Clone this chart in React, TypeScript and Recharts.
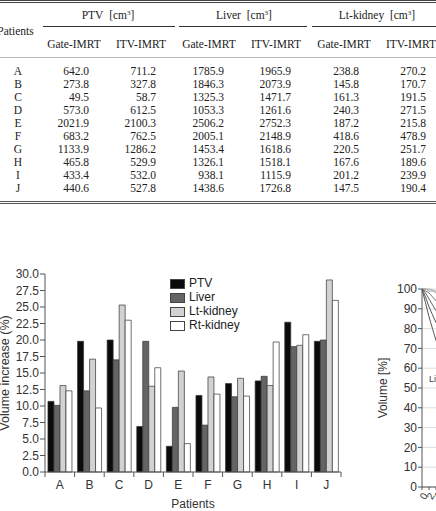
import React from 'react';
import { BarChart, Bar, XAxis, YAxis, Legend, LineChart, Line, CartesianGrid } from 'recharts';

// ---------- Table data ----------
const patients = ['A', 'B', 'C', 'D', 'E', 'F', 'G', 'H', 'I', 'J'];
const ptvGate = [642.0, 273.8, 49.5, 573.0, 2021.9, 683.2, 1133.9, 465.8, 433.4, 440.6];
const ptvItv = [711.2, 327.8, 58.7, 612.5, 2100.3, 762.5, 1286.2, 529.9, 532.0, 527.8];
const liverGate = [1785.9, 1846.3, 1325.3, 1053.3, 2506.2, 2005.1, 1453.4, 1326.1, 938.1, 1438.6];
const liverItv = [1965.9, 2073.9, 1471.7, 1261.6, 2752.3, 2148.9, 1618.6, 1518.1, 1115.9, 1726.8];
const ltGate = [238.8, 145.8, 161.3, 240.3, 187.2, 418.6, 220.5, 167.6, 201.2, 147.5];
const ltItv = [270.2, 170.7, 191.5, 271.5, 215.8, 478.9, 251.7, 189.6, 239.9, 190.4];
const organGroups = ['PTV', 'Liver', 'Lt-kidney'];
const subHeaders = ['Gate-IMRT', 'ITV-IMRT'];

// ---------- Bar chart data (volume increase %) ----------
const ptvIncrease = [10.7, 19.8, 20.0, 6.9, 3.9, 11.6, 13.4, 13.8, 22.7, 19.8];
const liverIncrease = [10.1, 12.3, 17.0, 19.8, 9.8, 7.1, 11.4, 14.5, 19.0, 20.0];
const ltIncrease = [13.1, 17.1, 25.3, 13.0, 15.3, 14.4, 14.2, 13.1, 19.2, 29.1];
const rtIncrease = [12.3, 9.7, 23.0, 15.8, 4.3, 11.8, 11.5, 19.7, 20.8, 26.0];
const seriesNames = ['PTV', 'Liver', 'Lt-kidney', 'Rt-kidney'];
const seriesColors = ['#0b0b0b', '#646464', '#d2d2d2', '#ffffff'];
const increaseTicks = [0, 2.5, 5, 7.5, 10, 12.5, 15, 17.5, 20, 22.5, 25, 27.5, 30];

// ---------- DVH (partial, right chart) ----------
const doses = [0, 1, 2, 3, 4, 5, 6, 8];
const dvhA = [100, 93, 86, 80, 74, 69, 65, 58];
const dvhB = [100, 96, 91, 87, 83, 80, 77, 72];
const dvhC = [100, 98, 95, 92, 89, 86, 84, 80];
const dvhD = [100, 99, 98, 96, 94, 92, 90, 86];
const dvhE = [100, 100, 99, 99, 98, 97, 96, 94];
const dvhF = [100, 100, 100, 99.5, 99, 99, 98, 97];
const volumeTicks = [0, 10, 20, 30, 40, 50, 60, 70, 80, 90, 100];
const doseTicks = [0, 2, 4, 6, 8, 10, 12, 14, 16, 18, 20];

const SANS = '"Liberation Sans", Arial, sans-serif';
const SERIF = '"Liberation Serif", "Times New Roman", serif';

const barData = patients.map((p, i) => ({
  patient: p,
  PTV: ptvIncrease[i],
  Liver: liverIncrease[i],
  'Lt-kidney': ltIncrease[i],
  'Rt-kidney': rtIncrease[i],
}));

const dvhData = doses.map((d, i) => ({
  dose: d, a: dvhA[i], b: dvhB[i], c: dvhC[i], d: dvhD[i], e: dvhE[i], f: dvhF[i],
}));

// ---------- Table ----------
const colCenters = [74, 141, 209, 276, 344, 411];
const groupCenters = [108, 244, 377];
const groupRules = [[43, 175], [179, 307], [312, 440]];
const ROW0 = 71;
const ROWSTEP = 13;

function Table() {
  const cols = [ptvGate, ptvItv, liverGate, liverItv, ltGate, ltItv];
  const txt: React.CSSProperties = { position: 'absolute', fontFamily: SERIF, fontSize: 11.5, lineHeight: '13px', color: '#222', whiteSpace: 'nowrap' };
  const centered = (cx: number, cy: number): React.CSSProperties => ({ ...txt, left: cx - 60, width: 120, top: cy - 6.5, textAlign: 'center' });
  return (
    <div style={{ position: 'absolute', left: 0, top: 0, width: 436, height: 210 }}>
      <div style={{ position: 'absolute', left: 0, top: 0, width: 436, borderTop: '3px double #444' }} />
      {organGroups.map((g, i) => (
        <div key={g} style={centered(groupCenters[i], 15)}>
          {g}&nbsp;&nbsp;[cm<sup style={{ fontSize: 7, verticalAlign: 'top', position: 'relative', top: -2 }}>3</sup>]
        </div>
      ))}
      {groupRules.map((r, i) => (
        <div key={i} style={{ position: 'absolute', left: r[0], top: 26, width: r[1] - r[0], borderTop: '1px solid #333' }} />
      ))}
      <div style={centered(15.5, 31)}>Patients</div>
      {colCenters.map((c, i) => (
        <div key={i} style={centered(c, 44)}>{subHeaders[i % 2]}</div>
      ))}
      <div style={{ position: 'absolute', left: 0, top: 57, width: 436, borderTop: '1px solid #bbb' }} />
      {patients.map((p, r) => (
        <React.Fragment key={p}>
          <div style={centered(18, ROW0 + r * ROWSTEP)}>{p}</div>
          {cols.map((col, c) => (
            <div key={c} style={{ ...txt, left: colCenters[c] + 15 - 60, width: 60, top: ROW0 + r * ROWSTEP - 6.5, textAlign: 'right' }}>
              {col[r].toFixed(1)}
            </div>
          ))}
        </React.Fragment>
      ))}
      <div style={{ position: 'absolute', left: 0, top: 201, width: 436, borderTop: '3px double #555' }} />
    </div>
  );
}

// ---------- Bar chart ----------
const BAR_W = 350;
const BAR_H = 261;
const BAR_M = { top: 24, right: 9, bottom: 0, left: 0 };
const Y_W = 45;
const X_H = 39;
const BAND = (BAR_W - BAR_M.left - BAR_M.right - Y_W) / patients.length;

function CategoryTick(props: any) {
  const { x, y, payload, index } = props;
  const last = index === patients.length - 1;
  return (
    <g>
      <line x1={x - BAND / 2} x2={x - BAND / 2} y1={y} y2={y + 5} stroke="#555" />
      {last && <line x1={x + BAND / 2} x2={x + BAND / 2} y1={y} y2={y + 5} stroke="#555" />}
      <text x={x} y={y + 17} textAnchor="middle" fontSize={12} fill="#333" fontFamily={SANS}>{payload.value}</text>
    </g>
  );
}

function BarLegend() {
  return (
    <div style={{ fontFamily: SANS, fontSize: 12, color: '#222' }}>
      {seriesNames.map((n, i) => (
        <div key={n} style={{ display: 'flex', alignItems: 'center', height: 13.9 }}>
          <div style={{ width: 13, height: 8, background: seriesColors[i], border: '1px solid #444', marginRight: 4 }} />
          <span style={{ lineHeight: '13px' }}>{n}</span>
        </div>
      ))}
    </div>
  );
}

function IncreaseChart() {
  return (
    <BarChart width={BAR_W} height={BAR_H} data={barData} margin={BAR_M} barCategoryGap="10%" barGap={0}>
      <XAxis
        dataKey="patient"
        interval={0}
        tickLine={false}
        tickSize={0}
        tickMargin={0}
        height={X_H}
        axisLine={{ stroke: '#555' }}
        tick={<CategoryTick />}
        label={{ value: 'Patients', position: 'insideBottom', offset: 3, fontSize: 12, fill: '#333', fontFamily: SANS }}
      />
      <YAxis
        domain={[0, 30]}
        ticks={increaseTicks}
        interval={0}
        width={Y_W}
        tickSize={5}
        tickMargin={1}
        axisLine={{ stroke: '#555' }}
        tickLine={{ stroke: '#555' }}
        tick={{ fontSize: 12, fill: '#333', fontFamily: SANS }}
        tickFormatter={(v: number) => v.toFixed(1)}
        label={{
          content: (p: any) => {
            const vb = p.viewBox || {};
            const cy = (vb.y || 0) + (vb.height || 0) / 2;
            return (
              <text x={9} y={cy} transform={`rotate(-90, 9, ${cy})`} textAnchor="middle" fontSize={12.5} fill="#333" fontFamily={SANS}>
                Volume increase (%)
              </text>
            );
          },
        }}
      />
      <Legend
        content={<BarLegend />}
        layout="horizontal"
        align="center"
        verticalAlign="middle"
        wrapperStyle={{ position: 'absolute', left: 170, top: 27, width: 100 }}
      />
      {seriesNames.map((n, i) => (
        <Bar key={n} dataKey={n} fill={seriesColors[i]} stroke="#333" strokeWidth={0.7} isAnimationActive={false} />
      ))}
    </BarChart>
  );
}

// ---------- Partial DVH chart ----------
function DvhChart() {
  const lines = [
    { k: 'f', c: '#aaa' },
    { k: 'e', c: '#999' },
    { k: 'd', c: '#777' },
    { k: 'c', c: '#666' },
    { k: 'b', c: '#555' },
    { k: 'a', c: '#555' },
  ];
  return (
    <LineChart width={300} height={241} data={dvhData} margin={{ top: 19, right: 8, bottom: 0, left: 0 }}>
      <CartesianGrid vertical={false} stroke="#dedede" />
      <XAxis
        type="number"
        dataKey="dose"
        domain={[0, 60]}
        ticks={doseTicks}
        interval={0}
        height={24}
        tickSize={3}
        axisLine={{ stroke: '#555' }}
        tickLine={{ stroke: '#555' }}
        angle={-60}
        textAnchor="end"
        tick={{ fontSize: 10, fill: '#333', fontFamily: SANS }}
      />
      <YAxis
        domain={[0, 100]}
        ticks={volumeTicks}
        interval={0}
        width={82}
        tickSize={4}
        tickMargin={1}
        axisLine={{ stroke: '#555' }}
        tickLine={{ stroke: '#555' }}
        tick={{ fontSize: 12, fill: '#333', fontFamily: SANS }}
        label={{
          content: (p: any) => {
            const vb = p.viewBox || {};
            const cy = (vb.y || 0) + (vb.height || 0) / 2;
            return (
              <text x={47} y={cy} transform={`rotate(-90, 47, ${cy})`} textAnchor="middle" fontSize={12} fill="#333" fontFamily={SANS}>
                Volume [%]
              </text>
            );
          },
        }}
      />
      {lines.map((l) => (
        <Line key={l.k} dataKey={l.k} stroke={l.c} strokeWidth={1} dot={false} type="monotone" isAnimationActive={false} />
      ))}
    </LineChart>
  );
}

export default function App() {
  return (
    <div style={{ position: 'absolute', left: 0, top: 0, width: 436, height: 511, overflow: 'hidden', background: '#fff' }}>
      <Table />
      <div style={{ position: 'absolute', left: 0, top: 250 }}>
        <IncreaseChart />
      </div>
      <div style={{ position: 'absolute', left: 340, top: 270 }}>
        <DvhChart />
      </div>
      <div style={{ position: 'absolute', left: 429, top: 374, fontFamily: SANS, fontSize: 9, color: '#444', whiteSpace: 'nowrap' }}>Liver</div>
    </div>
  );
}
